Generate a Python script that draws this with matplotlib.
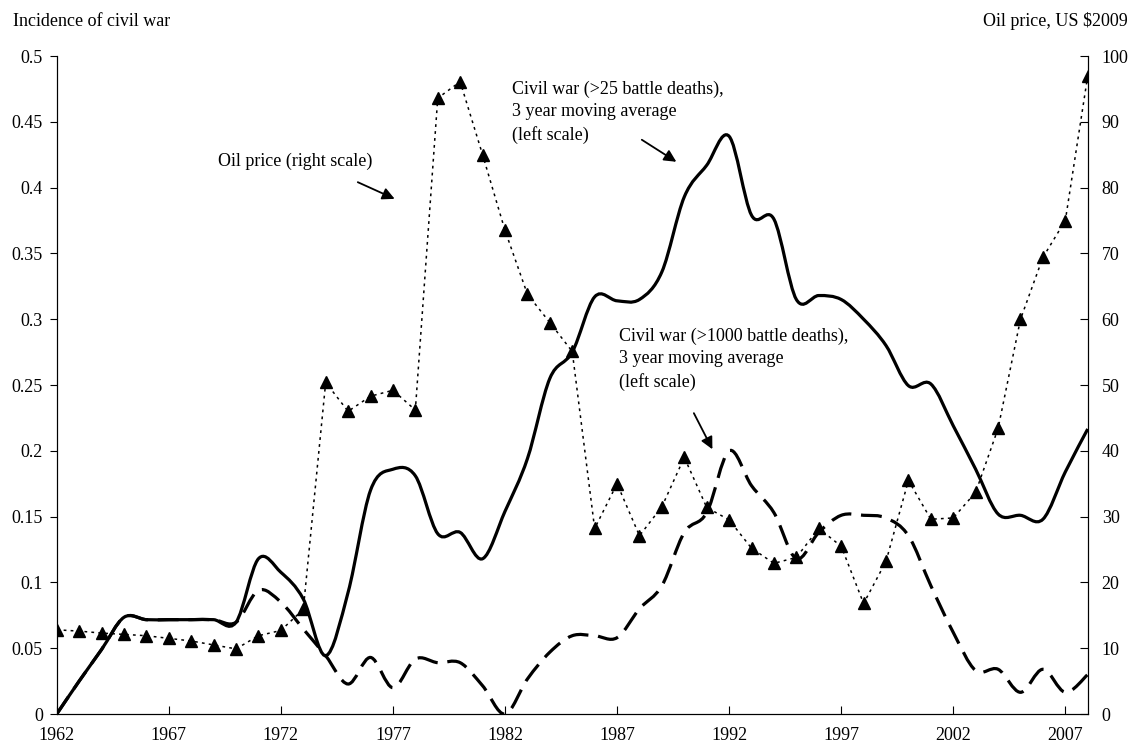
import numpy as np
import matplotlib
matplotlib.use("Agg")
import matplotlib.pyplot as plt
from matplotlib.path import Path
from matplotlib.patches import PathPatch

plt.rcParams['font.family'] = ['Liberation Serif', 'DejaVu Serif']
plt.rcParams['font.size'] = 13
plt.rcParams['lines.scale_dashes'] = False

# annees
years = list(range(1962, 2009))

# prix du petrole, US $2009 (echelle de droite)
oil_price = [12.8, 12.6, 12.3, 12.1, 11.9, 11.5, 11.1, 10.5, 9.9, 11.9,
             12.7, 15.9, 50.4, 46.0, 48.3, 49.2, 46.2, 93.6, 96.1, 85.0,
             73.5, 63.8, 59.5, 55.1, 28.2, 35.0, 27.1, 31.5, 39.0, 31.4,
             29.5, 25.2, 22.9, 23.8, 28.2, 25.5, 16.8, 23.2, 35.5, 29.6,
             29.8, 33.7, 43.4, 60.0, 69.4, 75.0, 97.0]

# guerre civile >25 morts, moyenne mobile 3 ans (echelle de gauche)
war_25 = [0.0, 0.025, 0.049, 0.0735, 0.0717, 0.0717, 0.0717, 0.0717, 0.0697, 0.118,
          0.1077, 0.0874, 0.0443, 0.0925, 0.170, 0.186, 0.181, 0.137, 0.138, 0.118,
          0.154, 0.194, 0.255, 0.275, 0.317, 0.314, 0.315, 0.336, 0.393, 0.417,
          0.439, 0.379, 0.376, 0.315, 0.318, 0.315, 0.300, 0.280, 0.2495, 0.2508,
          0.219, 0.186, 0.152, 0.151, 0.148, 0.184, 0.2166]

# guerre civile >1000 morts, moyenne mobile 3 ans (echelle de gauche)
war_1000 = [0.0, 0.025, 0.049, 0.0735, 0.0717, 0.0717, 0.0717, 0.0717, 0.0697, 0.094,
            0.085, 0.0646, 0.0443, 0.0228, 0.043, 0.020, 0.0418, 0.039, 0.039, 0.0215,
            0.0, 0.0266, 0.047, 0.0595, 0.0595, 0.058, 0.080, 0.0975, 0.138, 0.153,
            0.200, 0.1735, 0.153, 0.118, 0.138, 0.151, 0.151, 0.149, 0.1355, 0.0975,
            0.062, 0.033, 0.034, 0.0165, 0.034, 0.0165, 0.030]

left_ticks = [0, 0.05, 0.1, 0.15, 0.2, 0.25, 0.3, 0.35, 0.4, 0.45, 0.5]
left_labels = ['0', '0.05', '0.1', '0.15', '0.2', '0.25', '0.3', '0.35', '0.4', '0.45', '0.5']
right_ticks = list(range(0, 101, 10))
year_ticks = list(range(1962, 2008, 5))


# courbe lissee facon Excel (bezier)
def courbe_lissee(x, y):
    verts = [(x[0], y[0])]
    codes = [Path.MOVETO]
    n = len(x)
    for i in range(n - 1):
        x0, y0 = (x[i - 1], y[i - 1]) if i > 0 else (x[i], y[i])
        x3, y3 = (x[i + 2], y[i + 2]) if i + 2 < n else (x[i + 1], y[i + 1])
        c1 = (x[i] + (x[i + 1] - x0) / 6, y[i] + (y[i + 1] - y0) / 6)
        c2 = (x[i + 1] - (x3 - x[i]) / 6, y[i + 1] - (y3 - y[i]) / 6)
        verts += [c1, c2, (x[i + 1], y[i + 1])]
        codes += [Path.CURVE4] * 3
    return Path(verts, codes)


fig = plt.figure(figsize=(11.3, 7.49), dpi=100)
ax = fig.add_axes([0.0502, 0.0467, 0.9124, 0.8785])
ax2 = ax.twinx()

ax.add_patch(PathPatch(courbe_lissee(years, war_1000), fill=False, color='black',
                       lw=2.3, linestyle=(0, (15, 7)), capstyle='butt', zorder=2))
ax.add_patch(PathPatch(courbe_lissee(years, war_25), fill=False, color='black',
                       lw=2.3, zorder=3))

ax2.plot(years, oil_price, color='black', lw=1.1, linestyle=(0, (2, 3)),
         marker='^', markersize=8, zorder=4)

ax.set_xlim(1962, 2008)
ax.set_ylim(0, 0.5)
ax2.set_ylim(0, 100)

ax.set_xticks(year_ticks)
ax.set_yticks(left_ticks)
ax.set_yticklabels(left_labels)
ax2.set_yticks(right_ticks)

ax.tick_params(axis='x', direction='in', length=6, pad=9, labelsize=13)
ax.tick_params(axis='y', direction='out', length=5, pad=5, labelsize=13)
ax2.tick_params(axis='y', direction='in', length=6, pad=10, labelsize=13)

for a in (ax, ax2):
    a.spines['top'].set_visible(False)
    for s in a.spines.values():
        s.set_linewidth(0.8)

# titres des axes
fig.text(13 / 1130, 1 - 21 / 749, 'Incidence of civil war', ha='left', va='center', fontsize=13)
fig.text(1128 / 1130, 1 - 21 / 749, r'Oil price, US \$2009', ha='right', va='center', fontsize=13)

# annotations
ax.text(1969.2, 0.4197, 'Oil price (right scale)', ha='left', va='center', fontsize=13)
ax.annotate('', xy=(1977.19, 0.3906), xytext=(1975.32, 0.405),
            arrowprops=dict(arrowstyle='-|>', color='black', lw=1.3, mutation_scale=18))

ax.text(1982.31, 0.4572, 'Civil war (>25 battle deaths),\n3 year moving average\n(left scale)',
        ha='left', va='center', fontsize=13, linespacing=1.42)
ax.annotate('', xy=(1989.75, 0.4185), xytext=(1988.0, 0.4375),
            arrowprops=dict(arrowstyle='-|>', color='black', lw=1.3, mutation_scale=18))

ax.text(1987.07, 0.2698, 'Civil war (>1000 battle deaths),\n3 year moving average\n(left scale)',
        ha='left', va='center', fontsize=13, linespacing=1.42)
ax.annotate('', xy=(1991.31, 0.1993), xytext=(1990.37, 0.2305),
            arrowprops=dict(arrowstyle='-|>', color='black', lw=1.3, mutation_scale=18))

plt.savefig('out.png', dpi=100)
plt.close()
